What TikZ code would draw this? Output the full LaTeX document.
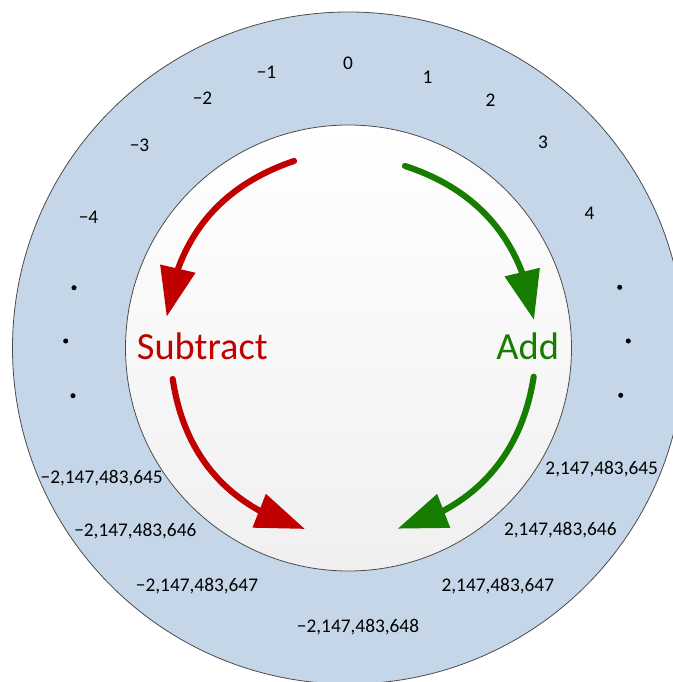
\documentclass[tikz,border=0pt]{standalone}
\usepackage{fontspec}
\setmainfont{Carlito}
\usetikzlibrary{arrows.meta,bending,positioning}
\definecolor{ringblue}{RGB}{196,214,231}
\definecolor{subred}{RGB}{192,0,0}
\definecolor{addgreen}{RGB}{22,125,0}

\begin{document}
\begin{tikzpicture}[
    x=0.75pt, y=0.75pt,
    numnode/.style={font=\fontsize{14.5pt}{16pt}\selectfont, anchor=base, inner sep=0pt},
    opnode/.style={font=\fontsize{28.8pt}{32pt}\selectfont, anchor=base, inner sep=0pt},
    dotnode/.style={circle, fill=black, inner sep=0pt, minimum size=3.8pt},
    turnarrow/.style={line width=4.6pt, line cap=round, -{Triangle[length=37pt,width=26pt]}}
]
\useasboundingbox (-348.5,-334) rectangle (324.5,348);
\clip (-348.5,-334) rectangle (324.5,348);

% Outer ring
\draw[fill=ringblue, draw=black!70, line width=0.6pt] (0,0) circle (336);

% Inner disc
\shade[top color=white, bottom color=gray!12] (0,0) circle (223);
\draw[black!70, line width=0.6pt] (0,0) circle (223);

% Values around the ring
\foreach \x/\y/\val/\nm in {-0.5/278/0/p0, 79/264/1/p1, 142/241/2/p2, 194.5/199/3/p3, 241/128/4/p4,
    -82/269/−1/m1, -146/243/−2/m2, -209/196/−3/m3, -260/124.4/−4/m4} {
    \node[numnode] (\nm) at (\x,\y) {\val};
}
\foreach \x/\y/\val/\nm in {-246.8/-135/{−2,147,483,645}/m5, -213.2/-188.7/{−2,147,483,646}/m6,
    -151.5/-243.7/{−2,147,483,647}/m7, 9.5/-284/{−2,147,483,648}/m8,
    253.2/-126.3/{2,147,483,645}/p5, 211.8/-187/{2,147,483,646}/p6, 149.3/-243.7/{2,147,483,647}/p7} {
    \node[numnode] (\nm) at (\x,\y) {\val};
}

% Ellipsis dots
\foreach \x/\y/\nm in {-274.5/60.3/dl1, -282.8/7/dl2, -275.5/-47.7/dl3,
    271.2/60.7/dr1, 279.8/7/dr2, 272.2/-47.3/dr3} {
    \node[dotnode] (\nm) at (\x,\y) {};
}

% Operations
\node[opnode, text=subred] (sub) at (-146.2,-11.5) {Subtract};
\node[opnode, text=addgreen] (add) at (179.2,-11) {Add};

% Arrows
\coordinate (subA) at (-54.5,187);
\coordinate (subB) at (-181.8,31.3);
\coordinate (subC) at (-175.8,-31);
\coordinate (subD) at (-43.5,-181);
\coordinate (addA) at (56.5,182);
\coordinate (addB) at (185.5,28);
\coordinate (addC) at (185.2,-28.7);
\coordinate (addD) at (49.2,-180.7);
\draw[turnarrow, subred] (subA) to[bend right=32] (subB);
\draw[turnarrow, subred] (subC) to[bend right=33] (subD);
\draw[turnarrow, addgreen] (addA) to[bend left=32] (addB);
\draw[turnarrow, addgreen] (addC) to[bend left=33] (addD);

\end{tikzpicture}
\end{document}
